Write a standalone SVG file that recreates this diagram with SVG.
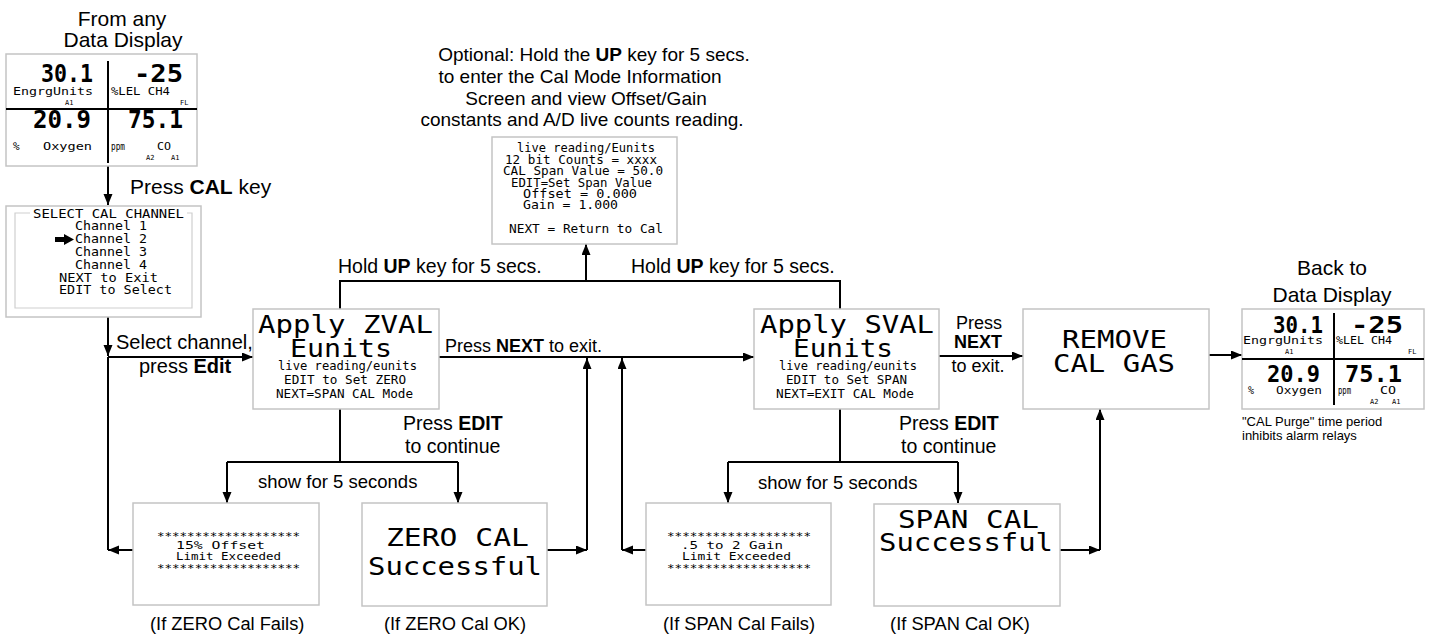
<svg xmlns="http://www.w3.org/2000/svg" width="1432" height="639" viewBox="0 0 1432 639">
<style>
.bg{fill:#fff}
.box{fill:#fff;stroke:#c4c4c4;stroke-width:1.5}
.inner{fill:none;stroke:#cfcfcf;stroke-width:1.2}
.ln{fill:none;stroke:#000;stroke-width:2}
.div{fill:none;stroke:#000;stroke-width:2}
.lbl{font-family:"Liberation Sans",Arial,sans-serif;font-size:19.5px;fill:#000}
.big{font-size:21px}
.mid{font-size:18px}
.info{font-size:19px}
.sm{font-size:13px}
.b{font-weight:bold}
.c{text-anchor:middle}
.lcd{font-family:"DejaVu Sans Mono","Liberation Mono",monospace;fill:#000}
.L{font-size:25px}
.D{font-size:25px;font-weight:bold}
.D2{font-size:23px;font-weight:bold}
.s12{font-size:12px}
.s13{font-size:13px}
.s11{font-size:11px}
.s10{font-size:10px}
.s7{font-size:7px}
</style>
<defs>
<marker id="ah" markerWidth="12" markerHeight="10" refX="11" refY="4.5" orient="auto" markerUnits="userSpaceOnUse">
<path d="M0,0 L11,4.5 L0,9 Z" fill="#000"/>
</marker>
</defs>
<rect class="bg" x="0" y="0" width="1432" height="639"/>

<!-- free labels -->
<g id="labels">
<text class="lbl big c" x="122" y="26">From any</text>
<text class="lbl big c" x="123" y="47">Data Display</text>
<text class="lbl" style="font-size:21px" x="130" y="194">Press <tspan class="b">CAL</tspan> key</text>
<text class="lbl" style="font-size:20px" x="116" y="349">Select channel,</text>
<text class="lbl" style="font-size:20px" x="139" y="373">press <tspan class="b">Edit</tspan></text>
<text class="lbl c info" x="594" y="61">Optional: Hold the <tspan class="b">UP</tspan> key for 5 secs.</text>
<text class="lbl c info" x="580" y="83">to enter the Cal Mode Information</text>
<text class="lbl c info" x="586" y="104.5">Screen and view Offset/Gain</text>
<text class="lbl c info" x="582" y="126">constants and A/D live counts reading.</text>
<text class="lbl" x="338" y="273">Hold <tspan class="b">UP</tspan> key for 5 secs.</text>
<text class="lbl" x="631" y="273">Hold <tspan class="b">UP</tspan> key for 5 secs.</text>
<text class="lbl mid" x="445" y="352">Press <tspan class="b">NEXT</tspan> to exit.</text>
<text class="lbl mid c" x="979" y="329">Press</text>
<text class="lbl mid c b" x="978" y="348">NEXT</text>
<text class="lbl mid c" x="978" y="372">to exit.</text>
<text class="lbl" x="403" y="430">Press <tspan class="b">EDIT</tspan></text>
<text class="lbl" x="405" y="453">to continue</text>
<text class="lbl" x="899" y="430">Press <tspan class="b">EDIT</tspan></text>
<text class="lbl" x="901" y="453">to continue</text>
<text class="lbl" style="font-size:18.5px" x="258" y="488">show for 5 seconds</text>
<text class="lbl" style="font-size:18.5px" x="758" y="489">show for 5 seconds</text>
<text class="lbl" style="font-size:18.3px" x="150" y="630">(If ZERO Cal Fails)</text>
<text class="lbl c" style="font-size:18.3px" x="455" y="630">(If ZERO Cal OK)</text>
<text class="lbl" style="font-size:18.3px" x="663" y="630">(If SPAN Cal Fails)</text>
<text class="lbl c" style="font-size:18.3px" x="960" y="630">(If SPAN Cal OK)</text>
<text class="lbl big c" x="1332" y="275">Back to</text>
<text class="lbl big c" x="1332" y="302">Data Display</text>
<text class="lbl sm" x="1242" y="426">"CAL Purge" time period</text>
<text class="lbl sm" x="1242" y="440">inhibits alarm relays</text>
</g>

<!-- connectors -->
<g id="connectors">
<path class="ln" d="M108,166 V205" marker-end="url(#ah)"/>
<path class="ln" d="M108,317 V356" marker-end="url(#ah)"/>
<path class="ln" d="M108,357 H253" marker-end="url(#ah)"/>
<path class="ln" d="M108,357 V550"/>
<path class="ln" d="M133,550 H108" marker-end="url(#ah)"/>
<path class="ln" d="M340,309 V281 H840 V309"/>
<path class="ln" d="M586,281 V244" marker-end="url(#ah)"/>
<path class="ln" d="M439,357 H754" marker-end="url(#ah)"/>
<path class="ln" d="M547,550 H587" marker-end="url(#ah)"/>
<path class="ln" d="M587,550 V358" marker-end="url(#ah)"/>
<path class="ln" d="M646,550 H622" marker-end="url(#ah)"/>
<path class="ln" d="M622,550 V358" marker-end="url(#ah)"/>
<path class="ln" d="M340,409 V462"/>
<path class="ln" d="M227,462 H458"/>
<path class="ln" d="M227,462 V503" marker-end="url(#ah)"/>
<path class="ln" d="M458,462 V503" marker-end="url(#ah)"/>
<path class="ln" d="M840,409 V462"/>
<path class="ln" d="M728,462 H958"/>
<path class="ln" d="M728,462 V503" marker-end="url(#ah)"/>
<path class="ln" d="M958,462 V503" marker-end="url(#ah)"/>
<path class="ln" d="M939,356 H1023" marker-end="url(#ah)"/>
<path class="ln" d="M1060,550 H1100" marker-end="url(#ah)"/>
<path class="ln" d="M1100,550 V409" marker-end="url(#ah)"/>
<path class="ln" d="M1209,355 H1242" marker-end="url(#ah)"/>
</g>

<!-- data display (start) -->
<g id="display-start">
<rect class="box" x="6" y="54" width="191" height="112"/>
<path class="div" d="M108,61 V163 M6,109 H197"/>
<text class="lcd D" x="41" y="82" textLength="52" lengthAdjust="spacingAndGlyphs">30.1</text>
<text class="lcd s11" x="13" y="95" textLength="80" lengthAdjust="spacingAndGlyphs">EngrgUnits</text>
<text class="lcd s7" x="65" y="105">A1</text>
<text class="lcd D" x="134" y="82" textLength="49" lengthAdjust="spacingAndGlyphs">-25</text>
<text class="lcd s11" x="111" y="95" textLength="59" lengthAdjust="spacingAndGlyphs">%LEL CH4</text>
<text class="lcd s7" x="180" y="105">FL</text>
<text class="lcd D" x="33" y="128" textLength="58" lengthAdjust="spacingAndGlyphs">20.9</text>
<text class="lcd s11" x="13" y="150">%</text>
<text class="lcd s11" x="43" y="150" textLength="49" lengthAdjust="spacingAndGlyphs">Oxygen</text>
<text class="lcd D" x="128" y="128" textLength="55" lengthAdjust="spacingAndGlyphs">75.1</text>
<text class="lcd s10" x="111" y="150" textLength="14" lengthAdjust="spacingAndGlyphs">ppm</text>
<text class="lcd s11" x="157" y="150" textLength="14" lengthAdjust="spacingAndGlyphs">CO</text>
<text class="lcd s7" x="146" y="160">A2</text>
<text class="lcd s7" x="171" y="160">A1</text>
</g>

<!-- select cal channel -->
<g id="select-channel">
<rect class="box" x="6" y="206" width="195" height="111"/>
<path class="inner" d="M30,213 H15 V308 H192 V213 H187"/>
<text class="lcd s13" x="33" y="218" textLength="151" lengthAdjust="spacingAndGlyphs">SELECT CAL CHANNEL</text>
<text class="lcd s13" x="75" y="230" textLength="72" lengthAdjust="spacingAndGlyphs">Channel 1</text>
<path d="M55,237 H64 V234 L74,239.5 L64,245 V242 H55 Z" fill="#000"/>
<text class="lcd s13" x="75" y="243" textLength="72" lengthAdjust="spacingAndGlyphs">Channel 2</text>
<text class="lcd s13" x="75" y="256" textLength="72" lengthAdjust="spacingAndGlyphs">Channel 3</text>
<text class="lcd s13" x="75" y="269" textLength="72" lengthAdjust="spacingAndGlyphs">Channel 4</text>
<text class="lcd s13" x="59" y="282" textLength="99" lengthAdjust="spacingAndGlyphs">NEXT to Exit</text>
<text class="lcd s13" x="59" y="294" textLength="113" lengthAdjust="spacingAndGlyphs">EDIT to Select</text>
</g>

<!-- info screen -->
<g id="info-screen">
<rect class="box" x="492" y="137" width="185" height="107"/>
<text class="lcd s12" x="517" y="152" textLength="138" lengthAdjust="spacingAndGlyphs">live reading/Eunits</text>
<text class="lcd s12" x="505" y="163.5" textLength="152" lengthAdjust="spacingAndGlyphs">12 bit Counts = xxxx</text>
<text class="lcd s12" x="503" y="175" textLength="160" lengthAdjust="spacingAndGlyphs">CAL Span Value = 50.0</text>
<text class="lcd s12" x="511" y="186.5" textLength="141" lengthAdjust="spacingAndGlyphs">EDIT=Set Span Value</text>
<text class="lcd s12" x="523" y="198" textLength="114" lengthAdjust="spacingAndGlyphs">Offset = 0.000</text>
<text class="lcd s12" x="523" y="209" textLength="95" lengthAdjust="spacingAndGlyphs">Gain = 1.000</text>
<text class="lcd s12" x="509" y="233" textLength="154" lengthAdjust="spacingAndGlyphs">NEXT = Return to Cal</text>
</g>

<!-- apply zval -->
<g id="apply-zval">
<rect class="box" x="253" y="309" width="186" height="100"/>
<text class="lcd L" x="258" y="333" textLength="175" lengthAdjust="spacingAndGlyphs">Apply ZVAL</text>
<text class="lcd L" x="290" y="357" textLength="102" lengthAdjust="spacingAndGlyphs">Eunits</text>
<text class="lcd s12" x="278" y="370" textLength="139" lengthAdjust="spacingAndGlyphs">live reading/eunits</text>
<text class="lcd s12" x="284" y="384" textLength="122" lengthAdjust="spacingAndGlyphs">EDIT to Set ZERO</text>
<text class="lcd s12" x="276" y="398" textLength="137" lengthAdjust="spacingAndGlyphs">NEXT=SPAN CAL Mode</text>
</g>

<!-- apply sval -->
<g id="apply-sval">
<rect class="box" x="754" y="309" width="185" height="100"/>
<text class="lcd L" x="760" y="333" textLength="174" lengthAdjust="spacingAndGlyphs">Apply SVAL</text>
<text class="lcd L" x="793" y="357" textLength="100" lengthAdjust="spacingAndGlyphs">Eunits</text>
<text class="lcd s12" x="779" y="370" textLength="138" lengthAdjust="spacingAndGlyphs">live reading/eunits</text>
<text class="lcd s12" x="786" y="384" textLength="121" lengthAdjust="spacingAndGlyphs">EDIT to Set SPAN</text>
<text class="lcd s12" x="776" y="398" textLength="138" lengthAdjust="spacingAndGlyphs">NEXT=EXIT CAL Mode</text>
</g>

<!-- remove cal gas -->
<g id="remove-cal-gas">
<rect class="box" x="1023" y="309" width="186" height="100"/>
<text class="lcd L" x="1062" y="348" textLength="105" lengthAdjust="spacingAndGlyphs">REMOVE</text>
<text class="lcd L" x="1053" y="372" textLength="122" lengthAdjust="spacingAndGlyphs">CAL GAS</text>
</g>

<!-- data display (end) -->
<g id="display-end">
<rect class="box" x="1242" y="309" width="182" height="100"/>
<path class="div" d="M1334,313 V405 M1242,359 H1424"/>
<text class="lcd D2" x="1273" y="333" textLength="50" lengthAdjust="spacingAndGlyphs">30.1</text>
<text class="lcd s10" x="1243" y="344" textLength="80" lengthAdjust="spacingAndGlyphs">EngrgUnits</text>
<text class="lcd s7" x="1285" y="354">A1</text>
<text class="lcd D2" x="1351" y="333" textLength="52" lengthAdjust="spacingAndGlyphs">-25</text>
<text class="lcd s10" x="1336" y="344" textLength="56" lengthAdjust="spacingAndGlyphs">%LEL CH4</text>
<text class="lcd s7" x="1408" y="354">FL</text>
<text class="lcd D2" x="1267" y="382" textLength="53" lengthAdjust="spacingAndGlyphs">20.9</text>
<text class="lcd s10" x="1248" y="394">%</text>
<text class="lcd s10" x="1276" y="394" textLength="46" lengthAdjust="spacingAndGlyphs">Oxygen</text>
<text class="lcd D2" x="1345" y="382" textLength="57" lengthAdjust="spacingAndGlyphs">75.1</text>
<text class="lcd s10" x="1338" y="394" textLength="13" lengthAdjust="spacingAndGlyphs">ppm</text>
<text class="lcd s10" x="1380" y="394" textLength="16" lengthAdjust="spacingAndGlyphs">CO</text>
<text class="lcd s7" x="1370" y="404">A2</text>
<text class="lcd s7" x="1392" y="404">A1</text>
</g>

<!-- zero fail -->
<g id="zero-fail">
<rect class="box" x="133" y="503" width="186" height="102"/>
<text class="lcd s11" x="157" y="540" textLength="143" lengthAdjust="spacingAndGlyphs">*******************</text>
<text class="lcd s11" x="176" y="549" textLength="89" lengthAdjust="spacingAndGlyphs">15% Offset</text>
<text class="lcd s11" x="176" y="560" textLength="105" lengthAdjust="spacingAndGlyphs">Limit Exceeded</text>
<text class="lcd s11" x="157" y="572" textLength="143" lengthAdjust="spacingAndGlyphs">*******************</text>
</g>

<!-- zero ok -->
<g id="zero-ok">
<rect class="box" x="362" y="503" width="185" height="103"/>
<text class="lcd L" x="386" y="546" textLength="143" lengthAdjust="spacingAndGlyphs">ZERO CAL</text>
<text class="lcd L" x="368" y="575" textLength="174" lengthAdjust="spacingAndGlyphs">Successful</text>
</g>

<!-- span fail -->
<g id="span-fail">
<rect class="box" x="646" y="503" width="185" height="102"/>
<text class="lcd s11" x="667" y="540" textLength="144" lengthAdjust="spacingAndGlyphs">*******************</text>
<text class="lcd s11" x="681" y="549" textLength="102" lengthAdjust="spacingAndGlyphs">.5 to 2 Gain</text>
<text class="lcd s11" x="682" y="560" textLength="109" lengthAdjust="spacingAndGlyphs">Limit Exceeded</text>
<text class="lcd s11" x="667" y="572" textLength="144" lengthAdjust="spacingAndGlyphs">*******************</text>
</g>

<!-- span ok -->
<g id="span-ok">
<rect class="box" x="874" y="504" width="186" height="102"/>
<text class="lcd L" x="898" y="528" textLength="141" lengthAdjust="spacingAndGlyphs">SPAN CAL</text>
<text class="lcd L" x="879" y="551" textLength="174" lengthAdjust="spacingAndGlyphs">Successful</text>
</g>
</svg>
